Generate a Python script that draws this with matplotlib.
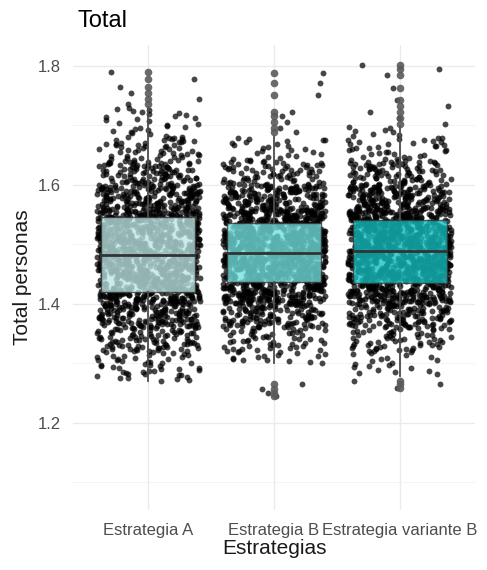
import numpy as np
import matplotlib.pyplot as plt

plt.rcParams['font.family'] = ['Liberation Sans', 'DejaVu Sans']

categories = ['Estrategia A', 'Estrategia B', 'Estrategia variante B']

# point counts per value bin
bin_edges = [1.24, 1.28, 1.32, 1.36, 1.40, 1.44, 1.48, 1.52, 1.56, 1.60, 1.64, 1.68, 1.72, 1.76, 1.80]
counts_a = [8, 40, 85, 140, 195, 225, 225, 200, 150, 95, 50, 22, 6, 0]
counts_b = [0, 15, 50, 115, 200, 270, 280, 220, 145, 70, 25, 0, 0, 0]
counts_c = [0, 20, 55, 115, 190, 250, 260, 225, 155, 85, 35, 8, 0, 0]

# box statistics
q1 = [1.420, 1.437, 1.435]
med = [1.482, 1.486, 1.489]
q3 = [1.546, 1.536, 1.541]
whis_lo = [1.270, 1.300, 1.278]
whis_hi = [1.730, 1.682, 1.698]
outliers_a = [1.735, 1.745, 1.755, 1.765, 1.778, 1.790]
outliers_b = [1.245, 1.250, 1.257, 1.265, 1.688, 1.695, 1.705, 1.715, 1.722, 1.751, 1.771, 1.788]
outliers_c = [1.258, 1.265, 1.270, 1.702, 1.712, 1.722, 1.732, 1.742, 1.763, 1.785, 1.795, 1.802]

box_colors = ['#bde6e6', '#73e0e0', '#14c0c0']

counts = [counts_a, counts_b, counts_c]
outliers = [outliers_a, outliers_b, outliers_c]

fig = plt.figure(figsize=(4.87, 5.70), dpi=100)
ax = fig.add_axes([73 / 487, 60 / 570, 402 / 487, 465 / 570])

# horizontal jitter only (like geom_jitter), values come from the bins above
jit = np.random.default_rng(7)
for g in range(3):
    ys = []
    for j, n in enumerate(counts[g]):
        lo = max(bin_edges[j], whis_lo[g])
        hi = min(bin_edges[j + 1], whis_hi[g])
        ys.extend(lo + (np.arange(n) + 0.5) / max(n, 1) * (hi - lo))
    ys = np.array(ys + outliers[g])
    xs = g + 1 + jit.uniform(-0.41, 0.41, len(ys))
    ax.scatter(xs, ys, s=18, color='black', alpha=0.72, linewidths=0, zorder=2)

stats = []
for g in range(3):
    stats.append({'med': med[g], 'q1': q1[g], 'q3': q3[g],
                  'whislo': whis_lo[g], 'whishi': whis_hi[g], 'fliers': outliers[g]})

bp = ax.bxp(stats, positions=[1, 2, 3], widths=0.75, patch_artist=True, showcaps=False,
            boxprops=dict(edgecolor='#333333', linewidth=1.0),
            medianprops=dict(color='#333333', linewidth=2.0),
            whiskerprops=dict(color='#4d4d4d', linewidth=1.3),
            flierprops=dict(marker='o', markerfacecolor='#5a5a5a', markeredgecolor='none',
                            markersize=5.5, alpha=0.9))
for patch, c in zip(bp['boxes'], box_colors):
    patch.set_facecolor(c)
    patch.set_alpha(0.78)
    patch.set_edgecolor('#333333')
for artist in bp['whiskers'] + bp['medians'] + bp['fliers']:
    artist.set_zorder(4)
for patch in bp['boxes']:
    patch.set_zorder(3)

ax.set_xlim(0.4, 3.6)
ax.set_ylim(1.053, 1.835)
ax.set_xticks([1, 2, 3])
ax.set_xticklabels(categories)
ax.set_yticks([1.2, 1.4, 1.6, 1.8])
ax.set_yticks([1.1, 1.3, 1.5, 1.7], minor=True)
ax.grid(True, which='major', color='#ebebeb', linewidth=1.0, zorder=0)
ax.grid(True, which='minor', axis='y', color='#f2f2f2', linewidth=0.6, zorder=0)
ax.set_axisbelow(True)
for s in ax.spines.values():
    s.set_visible(False)
ax.tick_params(axis='both', which='both', length=0, labelsize=12, colors='#4d4d4d')
ax.tick_params(axis='x', pad=9)
ax.tick_params(axis='y', pad=9)

ax.set_xlabel('Estrategias', fontsize=15, color='#1a1a1a', labelpad=1)
ax.set_ylabel('Total personas', fontsize=15, color='#1a1a1a', labelpad=4)
fig.text(77 / 487, 1 - 27 / 570, 'Total', fontsize=17, color='black', ha='left', va='baseline')

fig.savefig('out.png', dpi=100)
